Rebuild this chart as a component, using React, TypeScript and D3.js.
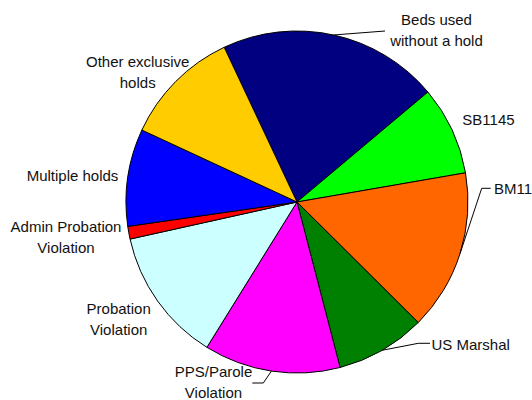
import React, { useRef, useEffect } from 'react';
import * as d3 from 'd3';

// slice values (share of beds, %), clockwise from the first slice
const categories = [
  'Beds used without a hold',
  'SB1145',
  'BM11',
  'US Marshal',
  'PPS/Parole Violation',
  'Probation Violation',
  'Admin Probation Violation',
  'Multiple holds',
  'Other exclusive holds',
];
const values = [20.9, 8.4, 15.2, 8.5, 12.9, 12.7, 1.2, 9.2, 11.1];
const colors = ['#000080', '#00ff00', '#ff6600', '#008000', '#ff00ff', '#ccffff', '#ff0000', '#0000ff', '#ffcc00'];

// label text, split as in the original
const labelLines = [
  ['Beds used', 'without a hold'],
  ['SB1145'],
  ['BM11'],
  ['US Marshal'],
  ['PPS/Parole', 'Violation'],
  ['Probation', 'Violation'],
  ['Admin Probation', 'Violation'],
  ['Multiple holds'],
  ['Other exclusive', 'holds'],
];

// where each label sits, plus leader line bend points (from slice edge outward)
const labelLayout: { x: number; y: number; anchor: string; leader?: [number, number][] }[] = [
  { x: 436.5, y: 25, anchor: 'middle', leader: [[385, 31]] },
  { x: 488.5, y: 125, anchor: 'middle' },
  { x: 494, y: 193.5, anchor: 'start', leader: [[481.7, 188.3], [490.7, 188.3]] },
  { x: 431.5, y: 349.5, anchor: 'start', leader: [[418.3, 343.3], [430, 343.3]] },
  { x: 213.5, y: 376.7, anchor: 'middle', leader: [[263.3, 383], [252.3, 383]] },
  { x: 118.7, y: 314.3, anchor: 'middle' },
  { x: 66, y: 231.7, anchor: 'middle' },
  { x: 72.5, y: 181, anchor: 'middle' },
  { x: 137.7, y: 67.3, anchor: 'middle' },
];

const W = 532;
const H = 400;
const cx = 297;
const cy = 202;
const R = 171;
const startDeg = -25.2;

export default function App() {
  const svgRef = useRef<SVGSVGElement>(null);

  useEffect(() => {
    if (!svgRef.current) return;
    const svg = d3.select(svgRef.current);
    svg.selectAll('*').remove();

    const start = (startDeg * Math.PI) / 180;
    const pie = d3.pie<number>().sort(null).value(d => d).startAngle(start).endAngle(start + 2 * Math.PI);
    const arcs = pie(values);
    const arc = d3.arc<d3.PieArcDatum<number>>().innerRadius(0).outerRadius(R);

    const g = svg.append('g').attr('transform', `translate(${cx},${cy})`);
    g.selectAll('path.slice')
      .data(arcs)
      .enter()
      .append('path')
      .attr('class', 'slice')
      .attr('d', arc)
      .attr('fill', (d, i) => colors[i])
      .attr('stroke', '#000')
      .attr('stroke-width', 1)
      .attr('stroke-linejoin', 'round');

    // leader lines from the middle of the slice's rim
    arcs.forEach((a, i) => {
      const lay = labelLayout[i];
      if (!lay.leader) return;
      const mid = (a.startAngle + a.endAngle) / 2;
      const p0: [number, number] = [cx + R * Math.sin(mid), cy - R * Math.cos(mid)];
      svg.append('path')
        .attr('d', d3.line()([p0, ...lay.leader]))
        .attr('fill', 'none')
        .attr('stroke', '#000')
        .attr('stroke-width', 1);
    });

    const lineH = 21;
    labelLayout.forEach((lay, i) => {
      const t = svg.append('text')
        .attr('x', lay.x)
        .attr('y', lay.y)
        .attr('text-anchor', lay.anchor)
        .attr('font-family', "'Liberation Sans', Arial, sans-serif")
        .attr('font-size', 15)
        .attr('fill', '#111');
      labelLines[i].forEach((ln, j) => {
        t.append('tspan').attr('x', lay.x).attr('y', lay.y + j * lineH).text(ln);
      });
    });
  }, []);

  return (
    <svg
      ref={svgRef}
      width={W}
      height={H}
      style={{ position: 'absolute', left: 0, top: 0, background: '#fff' }}
    />
  );
}
